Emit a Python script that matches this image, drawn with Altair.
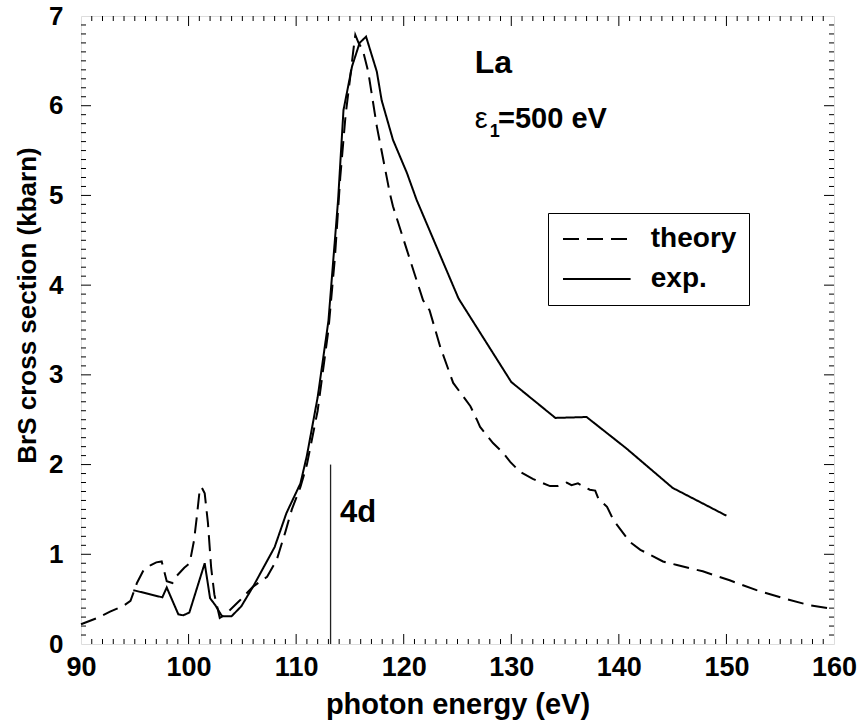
import altair as alt
import pandas as pd

# ---- data ----
theory_x = [90.0, 91.5, 92.7, 94.0, 94.6, 95.2, 95.8, 96.5, 97.0, 97.5, 97.97, 98.5, 98.9, 99.6, 100.1,
            100.5, 100.75, 101.0, 101.2, 101.5, 101.8, 102.1, 102.4, 102.9, 103.3, 103.85, 104.8, 106.0,
            107.3, 108.2, 109.0, 109.6, 110.4, 111.0, 112.0, 113.0, 113.6, 114.1, 114.6, 115.0, 115.3,
            115.5, 115.8, 116.2, 116.7, 117.5, 118.7, 119.0, 120.3, 121.8, 122.4, 123.4, 124.6, 126.2,
            126.8, 127.1, 128.3, 129.25, 129.9, 130.8, 132.0, 133.6, 134.3, 135.15, 135.6, 136.2, 137.3,
            137.8, 138.1, 138.9, 139.5, 141.0, 142.0, 144.1, 145.4, 147.8, 150.3, 152.8, 155.3, 157.8, 160.0]
theory_y = [0.22, 0.29, 0.36, 0.43, 0.48, 0.68, 0.82, 0.88, 0.91, 0.92, 0.70, 0.68, 0.76, 0.85, 0.90,
            1.15, 1.40, 1.68, 1.75, 1.68, 1.35, 0.85, 0.55, 0.29, 0.32, 0.38, 0.49, 0.64,
            0.75, 0.94, 1.25, 1.50, 1.75, 2.00, 2.60, 3.50, 4.30, 5.20, 5.90, 6.29, 6.60,
            6.79, 6.70, 6.62, 6.38, 5.77, 5.03, 4.88, 4.39, 3.83, 3.72, 3.31, 2.91, 2.65,
            2.50, 2.42, 2.24, 2.13, 2.03, 1.92, 1.84, 1.76, 1.76, 1.80, 1.77, 1.79, 1.72,
            1.71, 1.62, 1.53, 1.38, 1.14, 1.05, 0.92, 0.88, 0.81, 0.71, 0.60, 0.51, 0.43, 0.39]

exp_x = [94.86, 97.56, 97.97, 99.05, 99.5, 100.07, 101.5, 102.0, 102.5, 103.1, 104.0, 104.9, 106.0,
         107.0, 108.0, 109.1, 110.4, 111.0, 112.0, 113.0, 113.9, 114.4, 115.2, 115.9, 116.5, 117.5,
         117.95, 119.0, 120.3, 121.2, 125.1, 130.0, 134.1, 137.0, 140.7, 145.0, 150.0]
exp_y = [0.60, 0.52, 0.63, 0.33, 0.32, 0.35, 0.90, 0.51, 0.43, 0.31, 0.31, 0.42, 0.64,
         0.86, 1.08, 1.46, 1.79, 2.10, 2.75, 3.60, 4.95, 5.95, 6.44, 6.70, 6.77, 6.38,
         6.06, 5.62, 5.25, 4.95, 3.85, 2.92, 2.52, 2.53, 2.18, 1.74, 1.43]

series_names = ["theory", "exp."]
x_ticks = [90, 100, 110, 120, 130, 140, 150, 160]
y_ticks = [0, 1, 2, 3, 4, 5, 6, 7]
edge_line_x = 113.2
edge_line_top = 2.0

FONT = "Liberation Sans"
W, H = 753, 628

df = pd.concat([
    pd.DataFrame({"energy": theory_x, "sigma": theory_y, "series": "theory"}),
    pd.DataFrame({"energy": exp_x, "sigma": exp_y, "series": "exp."}),
])

xs = alt.Scale(domain=[90, 160], nice=False, zero=False)
ys = alt.Scale(domain=[0, 7], nice=False, zero=False)

AX = alt.Axis(values=x_ticks, title="photon energy (eV)", ticks=False, domain=False,
              grid=False, labelFontSize=27, labelFontWeight="bold", labelFont=FONT,
              labelPadding=10, labelColor="black", labelFlush=False, labelOverlap=False,
              titleFontSize=29, titleFont=FONT,
              titleFontWeight="bold", titlePadding=10, titleColor="black")
AY = alt.Axis(values=y_ticks, title="BrS cross section (kbarn)", ticks=False, domain=False,
              grid=False, labelFontSize=26, labelFontWeight="bold", labelFont=FONT,
              labelPadding=18, labelColor="black", labelFlush=False, labelOverlap=False,
              titleFontSize=26, titleFont=FONT, titleLimit=1000, titleY=289,
              titleFontWeight="bold", titlePadding=8, titleColor="black")

lines = alt.Chart(df).mark_line(strokeWidth=2, color="black").encode(
    x=alt.X("energy:Q", scale=xs, axis=AX),
    y=alt.Y("sigma:Q", scale=ys, axis=AY),
    strokeDash=alt.StrokeDash(
        "series:N",
        scale=alt.Scale(domain=series_names, range=[[16, 8], [1, 0]]),
        legend=alt.Legend(title=None, orient="none", legendX=467, legendY=197,
                          symbolType="M-2.6,0H2.6", symbolSize=676, symbolStrokeWidth=2,
                          symbolStrokeColor="black", symbolOffset=22.8,
                          labelFontSize=28, labelFont=FONT,
                          labelFontWeight="bold", labelColor="black", labelOffset=40,
                          strokeColor="black", fillColor="white", padding=12, rowPadding=12),
    ),
    detail="series:N",
)

# inward ticks on all four sides
x_minor = pd.DataFrame({"v": [v for v in range(91, 160) if v % 10]})
x_major = pd.DataFrame({"v": [v for v in x_ticks if 90 < v < 160]})
y_minor = pd.DataFrame({"v": [i / 10 for i in range(1, 70) if i % 10]})
y_major = pd.DataFrame({"v": [v for v in y_ticks if 0 < v < 7]})


def xtick(d, y0, y1):
    return alt.Chart(d).mark_rule(color="black", strokeWidth=1).encode(
        x=alt.X("v:Q", scale=xs, axis=AX), y=alt.value(y0), y2=alt.value(y1))


def ytick(d, x0, x1):
    return alt.Chart(d).mark_rule(color="black", strokeWidth=1).encode(
        y=alt.Y("v:Q", scale=ys, axis=AY), x=alt.value(x0), x2=alt.value(x1))


ticks = [
    xtick(x_minor, H, H - 5), xtick(x_major, H, H - 10),
    xtick(x_minor, 0, 5), xtick(x_major, 0, 10),
    ytick(y_minor, 0, 5), ytick(y_major, 0, 10),
    ytick(y_minor, W, W - 5), ytick(y_major, W, W - 10),
]

# 4d edge marker
edge = alt.Chart(pd.DataFrame({"x": [edge_line_x], "y0": [0.0], "y1": [edge_line_top]})).mark_rule(
    color="#222", strokeWidth=1.3).encode(
    x=alt.X("x:Q", scale=xs, axis=AX), y=alt.Y("y0:Q", scale=ys, axis=AY), y2="y1:Q")

ann = pd.DataFrame({
    "x": [114.08, 126.6, 126.6, 128.0, 128.77],
    "y": [1.36, 6.37, 5.75, 5.655, 5.75],
    "t": ["4d", "La", "ε", "1", "=500 eV"],
    "size": [31, 32, 29, 18, 29],
    "weight": ["bold", "bold", "normal", "bold", "bold"],
})


def txt(row):
    return alt.Chart(ann.iloc[[row]]).mark_text(
        align="left", baseline="alphabetic", font=FONT, color="black",
        fontSize=int(ann["size"][row]), fontWeight=ann["weight"][row]).encode(
        x=alt.X("x:Q", scale=xs, axis=AX), y=alt.Y("y:Q", scale=ys, axis=AY), text="t:N")


texts = [txt(i) for i in range(len(ann))]

chart = alt.layer(lines, edge, *ticks, *texts).properties(
    width=W, height=H,
    autosize=alt.AutoSizeParams(type="none"),
    padding={"left": 81, "top": 16, "right": 25, "bottom": 81},
).configure_view(stroke="black", strokeWidth=1.8).configure(background="white")

chart.save("out.html", embed_options={"renderer": "svg", "actions": False})
